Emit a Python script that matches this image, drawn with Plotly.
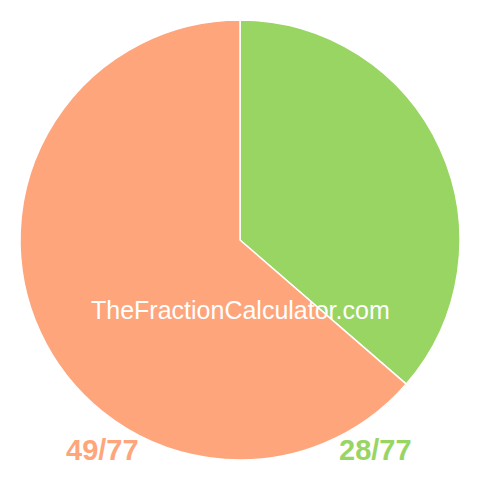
import plotly.graph_objects as go

# fraction parts shown in the pie
labels = ["28/77", "49/77"]
values = [28, 49]
colors = ["#99d562", "#fea57c"]
watermark = "TheFractionCalculator.com"

fig = go.Figure()
fig.add_trace(go.Pie(
    labels=labels,
    values=values,
    sort=False,
    direction="clockwise",
    rotation=0,
    marker=dict(colors=colors, line=dict(color="white", width=1.5)),
    textinfo="none",
    hoverinfo="label",
    domain=dict(x=[20 / 480, 460 / 480], y=[20 / 480, 460 / 480]),
    showlegend=False,
))

font = "Liberation Sans, Arial"
fig.add_annotation(x=0.5, y=0.355, xref="paper", yref="paper", text=watermark,
                   xanchor="center", yanchor="middle",
                   showarrow=False, font=dict(family=font, size=25, color="white"))
fig.add_annotation(x=0.214, y=0.063, xref="paper", yref="paper", text="<b>" + labels[1] + "</b>",
                   xanchor="center", yanchor="middle",
                   showarrow=False, font=dict(family=font, size=29, color=colors[1]))
fig.add_annotation(x=0.782, y=0.063, xref="paper", yref="paper", text="<b>" + labels[0] + "</b>",
                   xanchor="center", yanchor="middle",
                   showarrow=False, font=dict(family=font, size=29, color=colors[0]))

fig.update_layout(width=480, height=480, margin=dict(l=0, r=0, t=0, b=0),
                  paper_bgcolor="white", plot_bgcolor="white")
fig.write_html("out.html", config={"displayModeBar": False},
               post_script="document.body.style.margin='0';")
